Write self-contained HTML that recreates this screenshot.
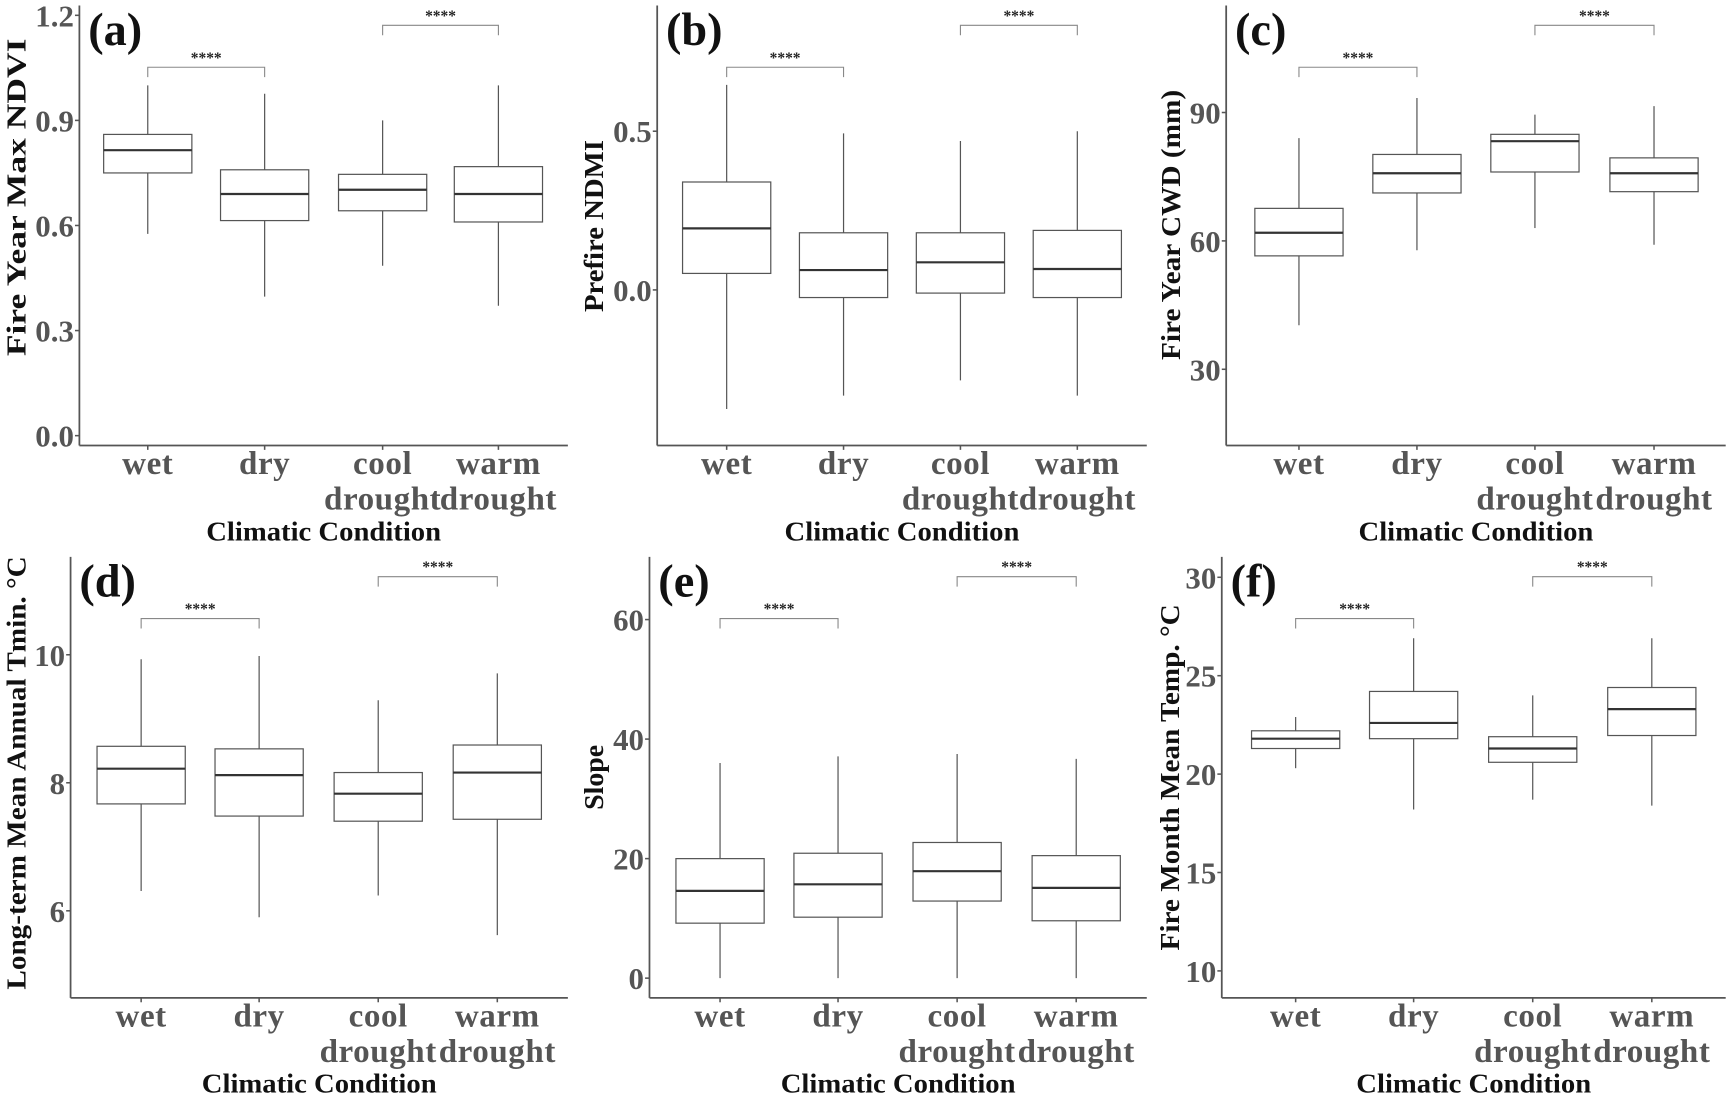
<!DOCTYPE html>
<html><head><meta charset="utf-8">
<style>
html,body{margin:0;padding:0;background:#fff;width:1729px;height:1096px;overflow:hidden}
svg{display:block}
text{font-family:"Liberation Serif",serif;font-weight:bold}
</style></head>
<body>
<svg id="fig" width="1729" height="1096" viewBox="0 0 1568 994" preserveAspectRatio="none" xmlns="http://www.w3.org/2000/svg"></svg>
<script>
const categories = [["wet"],["dry"],["cool","drought"],["warm","drought"]];
const panelLetters = ["(a)","(b)","(c)","(d)","(e)","(f)"];
const yTitles = ["Fire Year Max NDVI","Prefire NDMI","Fire Year CWD (mm)","Long-term Mean Annual Tmin. °C","Slope","Fire Month Mean Temp. °C"];
// per-panel stats: [lowerWhisker, Q1, median, Q3, upperWhisker] per category
const statsA = [[0.576,0.75,0.815,0.86,1.0],[0.397,0.614,0.69,0.759,0.976],[0.485,0.642,0.702,0.746,0.90],[0.371,0.61,0.69,0.768,1.0]];
const statsB = [[-0.375,0.052,0.194,0.34,0.646],[-0.333,-0.024,0.0625,0.18,0.493],[-0.285,-0.01,0.087,0.18,0.469],[-0.333,-0.024,0.066,0.1875,0.5]];
const statsC = [[40.3,56.5,61.9,67.6,84],[57.8,71.2,75.8,80.2,93.4],[63,76.1,83.3,84.9,89.5],[59.1,71.5,75.8,79.4,91.5]];
const statsD = [[6.31,7.67,8.22,8.57,9.93],[5.9,7.48,8.12,8.53,9.98],[6.24,7.4,7.83,8.16,9.29],[5.62,7.43,8.16,8.59,9.71]];
const statsE = [[0,9.2,14.6,20,36],[0,10.2,15.7,20.9,37.1],[0,12.9,17.9,22.7,37.5],[0,9.6,15.1,20.5,36.7]];
const statsF = [[20.3,21.3,21.8,22.2,22.9],[18.2,21.8,22.6,24.2,26.9],[18.7,20.6,21.3,21.9,24.0],[18.4,21.96,23.3,24.4,26.9]];
const ticksA = [0.0,0.3,0.6,0.9,1.2];
const ticksB = [0.0,0.5];
const ticksC = [30,60,90];
const ticksD = [6,8,10];
const ticksE = [0,20,40,60];
const ticksF = [10,15,20,25,30];
const tickLabelsA = ["0.0","0.3","0.6","0.9","1.2"];
const tickLabelsB = ["0.0","0.5"];
const tickLabelsC = ["30","60","90"];
const tickLabelsD = ["6","8","10"];
const tickLabelsE = ["0","20","40","60"];
const tickLabelsF = ["10","15","20","25","30"];
const domainA = [-0.028,1.228];
const domainB = [-0.49,0.896];
const domainC = [12.2,115];
const domainD = [4.64,11.53];
const domainE = [-3.3,70.5];
const domainF = [8.63,31.04];

const NS="http://www.w3.org/2000/svg";
const svg=document.getElementById('fig');
function mk(tag,attrs,parent){const e=document.createElementNS(NS,tag);for(const k in attrs)e.setAttribute(k,attrs[k]);(parent||svg).appendChild(e);return e;}

const layout=[
 {x0:72,x1:515,top:5,bot:404,cats:[134,240,347,452],titleX:23,tl:288,tc:179},
 {x0:596,x1:1040,top:5,bot:404,cats:[659,765,871,977],titleX:547,tl:156,tc:205},
 {x0:1112,x1:1565,top:5,bot:404,cats:[1178,1285,1392,1500],titleX:1070,tl:245,tc:204},
 {x0:64,x1:515,top:505,bot:905,cats:[128,235,343,451],titleX:23,tl:393,tc:701},
 {x0:589,x1:1040,top:505,bot:905,cats:[653,760,868,976],titleX:547,tl:59,tc:705},
 {x0:1108,x1:1565,top:505,bot:905,cats:[1175,1282,1390,1498],titleX:1069,tl:314,tc:705}
];
const allStats=[statsA,statsB,statsC,statsD,statsE,statsF];
const allTicks=[ticksA,ticksB,ticksC,ticksD,ticksE,ticksF];
const allTickLabels=[tickLabelsA,tickLabelsB,tickLabelsC,tickLabelsD,tickLabelsE,tickLabelsF];
const allDomains=[domainA,domainB,domainC,domainD,domainE,domainF];

layout.forEach((L,p)=>{
  const g=mk('g',{});
  
  
  const dom=allDomains[p];
  const y=v=>L.bot-(v-dom[0])/(dom[1]-dom[0])*(L.bot-L.top);
  const ya=mk('line',{x1:L.x0,y1:L.top,x2:L.x0,y2:L.bot,stroke:'#555','stroke-width':1.6},g);
  
  
  const xa=mk('line',{x1:L.x0,y1:L.bot,x2:L.x1,y2:L.bot,stroke:'#555','stroke-width':1.6},g);
  
  
  allTicks[p].forEach((t,i)=>{
    const ty=y(t);
    mk('line',{x1:L.x0-4,y1:ty,x2:L.x0,y2:ty,stroke:'#555','stroke-width':1.4},g);
    const tl=mk('text',{x:L.x0-5,y:ty+10,'text-anchor':'end','font-size':28,fill:'#555'},g);
    tl.textContent=allTickLabels[p][i];
    
    
  });
  const hw=40;
  allStats[p].forEach((s,i)=>{
    const cx=L.cats[i];
    mk('line',{x1:cx,y1:L.bot,x2:cx,y2:L.bot+4,stroke:'#555','stroke-width':1.4},g);
    const w=mk('line',{x1:cx,y1:y(s[4]),x2:cx,y2:y(s[0]),stroke:'#555','stroke-width':1.1},g);
    
    
    const b=mk('rect',{x:cx-hw,y:y(s[3]),width:2*hw,height:y(s[1])-y(s[3]),fill:'#fff',stroke:'#555','stroke-width':1.1},g);
    
    
    const m=mk('line',{x1:cx-hw,y1:y(s[2]),x2:cx+hw,y2:y(s[2]),stroke:'#333','stroke-width':2},g);
    
    
    categories[i].forEach((ln,j)=>{
      const t=mk('text',{x:cx,y:L.bot+26+j*32,'text-anchor':'middle','font-size':30,fill:'#555','letter-spacing':'0.5'},g);
      t.textContent=ln;
      
      
    });
  });
  [[0,1,L.top+56],[2,3,L.top+18]].forEach(([a,c,by])=>{
    const br=mk('path',{d:`M${L.cats[a]},${by+9}V${by}H${L.cats[c]}V${by+9}`,fill:'none',stroke:'#888','stroke-width':1},g);
    
    
    const st=mk('text',{x:(L.cats[a]+L.cats[c])/2,y:by-4,'text-anchor':'middle','font-size':14,fill:'#222'},g);
    st.textContent='****';
    
    
  });
  const lt=mk('text',{x:L.x0+8,y:L.top+36,'font-size':42,fill:'#111'},g);
  lt.textContent=panelLetters[p];
  
  
  const xt=mk('text',{x:(L.x0+L.x1)/2,y:L.bot+86,'text-anchor':'middle','font-size':25,fill:'#111',textLength:213,lengthAdjust:'spacingAndGlyphs'},g);
  xt.textContent='Climatic Condition';
  
  
  const cy=L.tc;
  const yt=mk('text',{x:L.titleX,y:cy,'text-anchor':'middle','font-size':25,fill:'#111',textLength:L.tl,lengthAdjust:'spacingAndGlyphs',transform:`rotate(-90 ${L.titleX} ${cy})`},g);
  yt.textContent=yTitles[p];
  
  
});
</script>
</body></html>
